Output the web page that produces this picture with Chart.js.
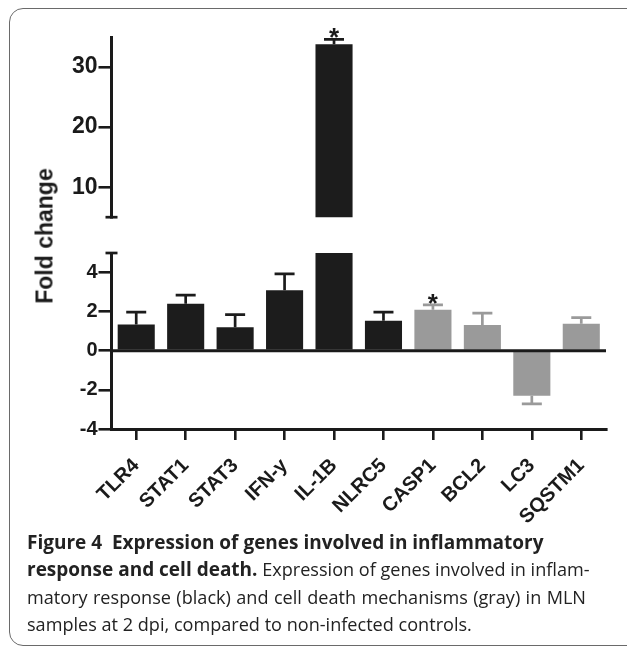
<!DOCTYPE html>
<html>
<head>
<meta charset="utf-8">
<script src="https://cdn.jsdelivr.net/npm/chart.js@4.4.1/dist/chart.umd.min.js"></script>
<style>
  html, body { margin: 0; padding: 0; background: #fff; }
  #page { position: absolute; left: 0; top: 0; width: 627px; height: 647px; overflow: hidden; }
  #frame { position: absolute; left: 9px; top: 8px; width: 700px; height: 636px; border: 1.5px solid #6a6a6a; border-radius: 14px; }
  #upperChart { position: absolute; left: 0; top: 0; }
  #lowerChart { position: absolute; left: 0; top: 240px; }
  #ytitle { position: absolute; left: 45px; top: 236px; transform: translate(-50%, -50%) rotate(-90deg);
    font: bold 23px "Liberation Sans", Arial, sans-serif; color: #1a1a1a; white-space: nowrap; }
  #caption { position: absolute; left: 27px; top: 529px; width: 559px; font-family: "Open Sans", sans-serif;
    font-size: 18.1px; line-height: 27.3px; color: #222; }
  #caption div { white-space: nowrap; }
  #caption .just { text-align: justify; text-align-last: justify; }
  #caption b { font-weight: 700; font-size: 19px; }
</style>
</head>
<body>
<div id="page">
<div id="frame"></div>
<canvas id="upperChart" width="627" height="232"></canvas>
<canvas id="lowerChart" width="627" height="290"></canvas>
<div id="ytitle">Fold change</div>
<div id="caption">
  <div><b>Figure 4&nbsp; Expression of genes involved in inflammatory</b></div>
  <div class="just"><b>response and cell death.</b> Expression of genes involved in inflam-</div>
  <div class="just">matory response (black) and cell death mechanisms (gray) in MLN</div>
  <div>samples at 2 dpi, compared to non-infected controls.</div>
</div>
</div>
<script>
// data
const genes = ['TLR4', 'STAT1', 'STAT3', 'IFN-y', 'IL-1B', 'NLRC5', 'CASP1', 'BCL2', 'LC3', 'SQSTM1'];
const foldChange = [1.35, 2.4, 1.2, 3.1, 33.8, 1.53, 2.1, 1.32, -2.3, 1.38];
const errorSize = [0.63, 0.45, 0.65, 0.83, 0.8, 0.45, 0.25, 0.61, 0.42, 0.32];
const significant = [false, false, false, false, true, false, true, false, false, false];
const geneGroup = ['inflammatory', 'inflammatory', 'inflammatory', 'inflammatory', 'inflammatory',
  'inflammatory', 'death', 'death', 'death', 'death'];
const upperTicks = [10, 20, 30];
const lowerTicks = [-4, -2, 0, 2, 4];
const upperRange = [5, 35];
const lowerRange = [-4, 5];

const INK = '#1a1a1a';
const groupColor = { inflammatory: '#1c1c1c', death: '#9a9a9a' };
const barColors = geneGroup.map(g => groupColor[g]);

// error bars, asterisks, axis break caps and zero line
const extras = {
  id: 'extras',
  afterDatasetsDraw(chart, args, opts) {
    const { ctx, chartArea } = chart;
    const y = chart.scales.y;
    const meta = chart.getDatasetMeta(0);
    ctx.save();
    meta.data.forEach((bar, i) => {
      const v = foldChange[i];
      const end = v >= 0 ? v + errorSize[i] : v - errorSize[i];
      const yv = y.getPixelForValue(v);
      const ye = y.getPixelForValue(end);
      ctx.save();
      ctx.beginPath();
      ctx.rect(chartArea.left, chartArea.top, chartArea.width, chartArea.height);
      ctx.clip();
      ctx.strokeStyle = barColors[i];
      ctx.lineWidth = 2.7;
      ctx.beginPath();
      ctx.moveTo(bar.x, yv);
      ctx.lineTo(bar.x, ye);
      ctx.moveTo(bar.x - 10, ye);
      ctx.lineTo(bar.x + 10, ye);
      ctx.stroke();
      ctx.restore();
      if (significant[i] && end >= y.min && end <= y.max) {
        ctx.fillStyle = INK;
        ctx.font = 'bold 26px "Liberation Sans", Arial, sans-serif';
        ctx.textAlign = 'center';
        ctx.textBaseline = 'alphabetic';
        ctx.fillText('*', bar.x, ye + 7);
      }
    });
    ctx.strokeStyle = INK;
    if (opts.zeroLine) {
      const y0 = y.getPixelForValue(0);
      ctx.lineWidth = 3;
      ctx.beginPath();
      ctx.moveTo(chartArea.left, y0);
      ctx.lineTo(chartArea.right, y0);
      ctx.stroke();
    }
    if (opts.cap) {
      const yc = opts.cap === 'bottom' ? chartArea.bottom : chartArea.top;
      ctx.lineWidth = 2.7;
      ctx.beginPath();
      ctx.moveTo(chartArea.left - 6, yc);
      ctx.lineTo(chartArea.left + 6, yc);
      ctx.stroke();
    }
    ctx.restore();
  },
};

function makeConfig(range, ticks, isLower) {
  return {
    type: 'bar',
    data: {
      labels: genes,
      datasets: [{
        data: foldChange,
        backgroundColor: barColors,
        borderWidth: 0,
        barPercentage: 0.75,
        categoryPercentage: 1.0,
        clip: 0,
      }],
    },
    options: {
      responsive: false,
      animation: false,
      layout: { padding: isLower ? { top: 7.3, right: 21, left: 0, bottom: 0 } : { top: 37, right: 21, left: 0, bottom: 9.3 } },
      plugins: {
        legend: { display: false },
        tooltip: { enabled: false },
        extras: isLower ? { zeroLine: true, cap: 'top' } : { cap: 'bottom' },
      },
      scales: {
        x: {
          display: isLower,
          offset: true,
          grid: { display: true, drawOnChartArea: false, drawTicks: true, tickLength: 11, offset: false, color: INK, lineWidth: 2.6 },
          border: { display: true, color: INK, width: 3 },
          ticks: {
            autoSkip: false, minRotation: 45, maxRotation: 45, padding: 14, color: INK,
            font: { family: '"Liberation Sans", Arial, sans-serif', size: 20, weight: 'bold' },
          },
          afterFit: s => { s.height = isLower ? 101 : 0; },
        },
        y: {
          min: range[0],
          max: range[1],
          grid: { drawOnChartArea: false, drawTicks: true, tickLength: 13, color: INK, lineWidth: 2.6 },
          border: { display: true, color: INK, width: 3 },
          ticks: {
            padding: 1, color: INK,
            font: { family: '"Liberation Sans", Arial, sans-serif', size: isLower ? 20 : 23, weight: 'bold' },
          },
          afterBuildTicks: s => { s.ticks = ticks.map(v => ({ value: v })); },
          afterFit: s => { s.width = 111.5; },
        },
      },
    },
    plugins: [extras],
  };
}

// upper panel (5-35) and lower panel (-4-5) of the broken axis
new Chart(document.getElementById('upperChart').getContext('2d'), makeConfig(upperRange, upperTicks, false));
new Chart(document.getElementById('lowerChart').getContext('2d'), makeConfig(lowerRange, lowerTicks, true));
</script>
</body>
</html>
